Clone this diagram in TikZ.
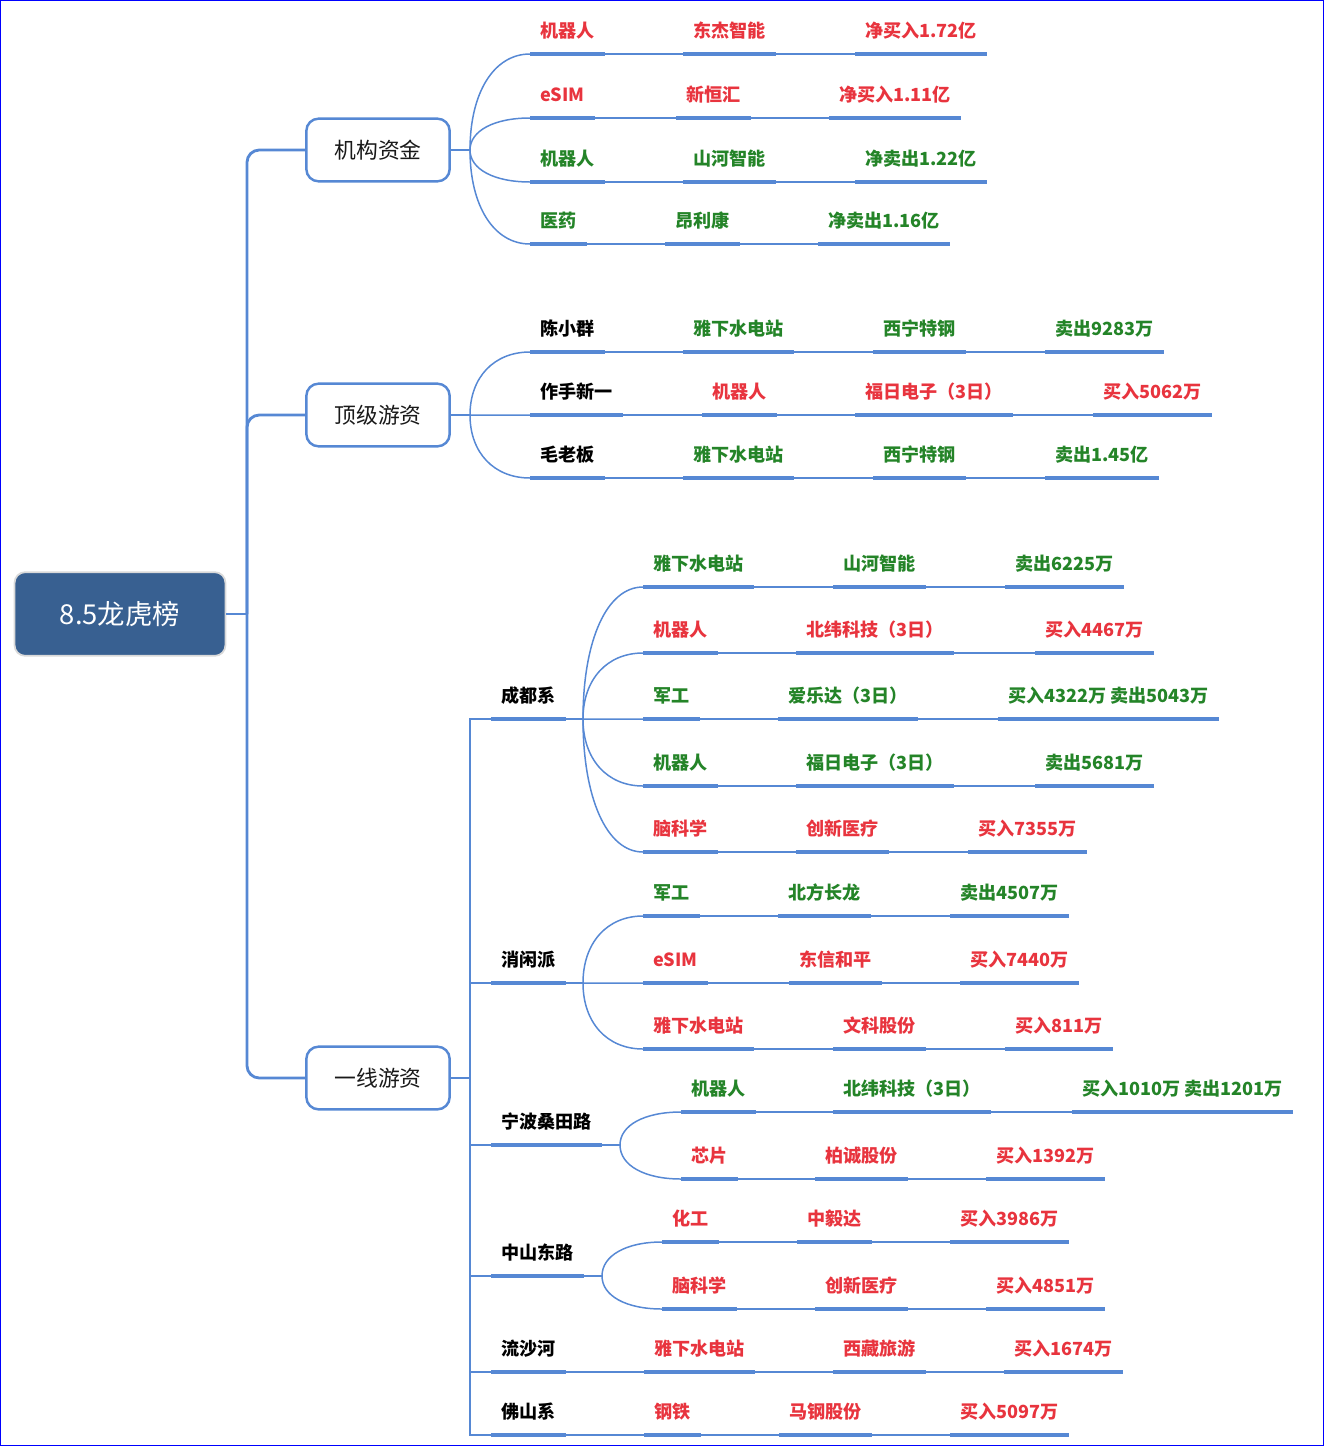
\documentclass[tikz,border=0pt]{standalone}
\usepackage{fontspec}
\setmainfont{Noto Sans CJK SC}
\usetikzlibrary{calc}

\definecolor{lineblue}{RGB}{86,136,212}
\definecolor{rootblue}{RGB}{56,96,145}
\definecolor{upred}{RGB}{232,52,62}
\definecolor{downgreen}{RGB}{36,132,40}
\definecolor{frameblue}{RGB}{0,0,255}

\tikzset{
  trunk/.style={lineblue, line width=1.6pt},
  twig/.style={lineblue, line width=0.85pt},
  fork/.style={twig, to path={.. controls ($(\tikztostart)!0.6!(\tikztostart|-\tikztotarget)$) and ($(\tikztostart|-\tikztotarget)!0.4!(\tikztotarget)$) .. (\tikztotarget)}},
  thickline/.style={lineblue, line width=2.5pt},
  leaf/.style={anchor=south west, inner xsep=5.6pt, inner ysep=0pt, text height=8pt, text depth=9pt,
    font=\fontsize{10.3}{12}\selectfont\bfseries,
    append after command={(\tikzlastnode.south west) edge[thickline] (\tikzlastnode.south east)}},
  buy/.style={leaf, text=upred},
  sell/.style={leaf, text=downgreen},
  who/.style={leaf, text=black},
  topic/.style={draw=lineblue, line width=1.4pt, fill=white, rounded corners=7pt, minimum width=81.6pt,
    minimum height=35.7pt, text=black!90, font=\fontsize{12.4}{14}\selectfont},
  rootbox/.style={fill=rootblue, draw=gray!30, line width=1pt, rounded corners=6pt, minimum width=120pt,
    minimum height=47.6pt, text=white, font=\fontsize{15.6}{18}\selectfont},
}

\begin{document}
\begin{tikzpicture}[x=0.02cm, y=-0.02cm]
      \useasboundingbox (0,0) rectangle (1325,1447);
      \draw[frameblue, line width=0.6pt] (0.5,0.5) rectangle (1323.5,1445.5);

      \node[rootbox] (root) at (120,614) {8.5龙虎榜};
      \coordinate (rootb) at (247,614);

      \node[topic] (jg) at (378,150) {机构资金};
      \node[topic] (dj) at (378,415) {顶级游资};
      \node[topic] (yx) at (378,1078) {一线游资};
      \coordinate (jgb) at (470,150);
      \coordinate (djb) at (470,415);
      \coordinate (yxb) at (470,1078);

      \node[buy] (jg1a) at (530,54) {机器人};
      \node[buy] (jg1b) at (683,54) {东杰智能};
      \node[buy] (jg1c) at (855,54) {净买入1.72亿};
      \node[buy] (jg2a) at (530,118) {eSIM};
      \node[buy] (jg2b) at (676,118) {新恒汇};
      \node[buy] (jg2c) at (829,118) {净买入1.11亿};
      \node[sell] (jg3a) at (530,182) {机器人};
      \node[sell] (jg3b) at (683,182) {山河智能};
      \node[sell] (jg3c) at (855,182) {净卖出1.22亿};
      \node[sell] (jg4a) at (530,244) {医药};
      \node[sell] (jg4b) at (665,244) {昂利康};
      \node[sell] (jg4c) at (818,244) {净卖出1.16亿};

      \node[who] (dj1a) at (530,352) {陈小群};
      \node[sell] (dj1b) at (683,352) {雅下水电站};
      \node[sell] (dj1c) at (873,352) {西宁特钢};
      \node[sell] (dj1d) at (1045,352) {卖出9283万};
      \node[who] (dj2a) at (530,415) {作手新一};
      \node[buy] (dj2b) at (702,415) {机器人};
      \node[buy] (dj2c) at (855,415) {福日电子（3日）};
      \node[buy] (dj2d) at (1093,415) {买入5062万};
      \node[who] (dj3a) at (530,478) {毛老板};
      \node[sell] (dj3b) at (683,478) {雅下水电站};
      \node[sell] (dj3c) at (873,478) {西宁特钢};
      \node[sell] (dj3d) at (1045,478) {卖出1.45亿};

      \node[who] (cd) at (491,719) {成都系};
      \coordinate (cdb) at (583,719);
      \node[sell] (cd1a) at (643,587) {雅下水电站};
      \node[sell] (cd1b) at (833,587) {山河智能};
      \node[sell] (cd1c) at (1005,587) {卖出6225万};
      \node[buy] (cd2a) at (643,653) {机器人};
      \node[buy] (cd2b) at (796,653) {北纬科技（3日）};
      \node[buy] (cd2c) at (1035,653) {买入4467万};
      \node[sell] (cd3a) at (643,719) {军工};
      \node[sell] (cd3b) at (778,719) {爱乐达（3日）};
      \node[sell] (cd3c) at (998,719) {买入4322万 卖出5043万};
      \node[sell] (cd4a) at (643,786) {机器人};
      \node[sell] (cd4b) at (796,786) {福日电子（3日）};
      \node[sell] (cd4c) at (1035,786) {卖出5681万};
      \node[buy] (cd5a) at (643,852) {脑科学};
      \node[buy] (cd5b) at (796,852) {创新医疗};
      \node[buy] (cd5c) at (968,852) {买入7355万};

      \node[who] (xx) at (491,983) {消闲派};
      \coordinate (xxb) at (583,983);
      \node[sell] (xx1a) at (643,916) {军工};
      \node[sell] (xx1b) at (778,916) {北方长龙};
      \node[sell] (xx1c) at (950,916) {卖出4507万};
      \node[buy] (xx2a) at (643,983) {eSIM};
      \node[buy] (xx2b) at (789,983) {东信和平};
      \node[buy] (xx2c) at (960,983) {买入7440万};
      \node[buy] (xx3a) at (643,1049) {雅下水电站};
      \node[buy] (xx3b) at (833,1049) {文科股份};
      \node[buy] (xx3c) at (1005,1049) {买入811万};

      \node[who] (nb) at (491,1145) {宁波桑田路};
      \coordinate (nbb) at (620,1145);
      \node[sell] (nb1a) at (681,1112) {机器人};
      \node[sell] (nb1b) at (833,1112) {北纬科技（3日）};
      \node[sell] (nb1c) at (1072,1112) {买入1010万 卖出1201万};
      \node[buy] (nb2a) at (681,1179) {芯片};
      \node[buy] (nb2b) at (815,1179) {柏诚股份};
      \node[buy] (nb2c) at (986,1179) {买入1392万};

      \node[who] (zs) at (491,1276) {中山东路};
      \coordinate (zsb) at (602,1276);
      \node[buy] (zs1a) at (662,1242) {化工};
      \node[buy] (zs1b) at (797,1242) {中毅达};
      \node[buy] (zs1c) at (950,1242) {买入3986万};
      \node[buy] (zs2a) at (662,1309) {脑科学};
      \node[buy] (zs2b) at (815,1309) {创新医疗};
      \node[buy] (zs2c) at (986,1309) {买入4851万};

      \node[who] (ls) at (491,1372) {流沙河};
      \node[buy] (ls1a) at (644,1372) {雅下水电站};
      \node[buy] (ls1b) at (833,1372) {西藏旅游};
      \node[buy] (ls1c) at (1004,1372) {买入1674万};

      \node[who] (fs) at (491,1435) {佛山系};
      \node[buy] (fs1a) at (644,1435) {钢铁};
      \node[buy] (fs1b) at (779,1435) {马钢股份};
      \node[buy] (fs1c) at (950,1435) {买入5097万};

      \draw[trunk] (root.east) -- (rootb);
      \foreach \tp in {jg,dj,yx}
        \draw[trunk, rounded corners=7pt] (rootb) |- (\tp.west);
      \foreach \tp in {jg,dj}
        \draw[trunk, line width=1.1pt] (\tp.east) -- (\tp b);
      \draw[trunk] (yx.east) -- (yxb);
      \foreach \gp in {cd,xx,nb,zs,ls,fs}
        \draw[trunk] (yxb) |- (\gp.south west);
      \foreach \gp in {cd,xx,nb,zs}
        \draw[twig] (\gp.south east) -- (\gp b);

      \foreach \b/\r in {jgb/jg1a, jgb/jg2a, jgb/jg3a, jgb/jg4a, djb/dj1a, djb/dj2a, djb/dj3a,
          cdb/cd1a, cdb/cd2a, cdb/cd3a, cdb/cd4a, cdb/cd5a, xxb/xx1a, xxb/xx2a, xxb/xx3a,
          nbb/nb1a, nbb/nb2a, zsb/zs1a, zsb/zs2a}
        \draw[fork] (\b) to (\r.south west);

      \foreach \a/\e in {jg1a/jg1c, jg2a/jg2c, jg3a/jg3c, jg4a/jg4c, dj1a/dj1d, dj2a/dj2d, dj3a/dj3d,
          cd1a/cd1c, cd2a/cd2c, cd3a/cd3c, cd4a/cd4c, cd5a/cd5c, xx1a/xx1c, xx2a/xx2c, xx3a/xx3c,
          nb1a/nb1c, nb2a/nb2c, zs1a/zs1c, zs2a/zs2c, ls/ls1c, fs/fs1c}
        \draw[twig] (\a.south west) -- (\e.south east);
    \end{tikzpicture}
\end{document}
